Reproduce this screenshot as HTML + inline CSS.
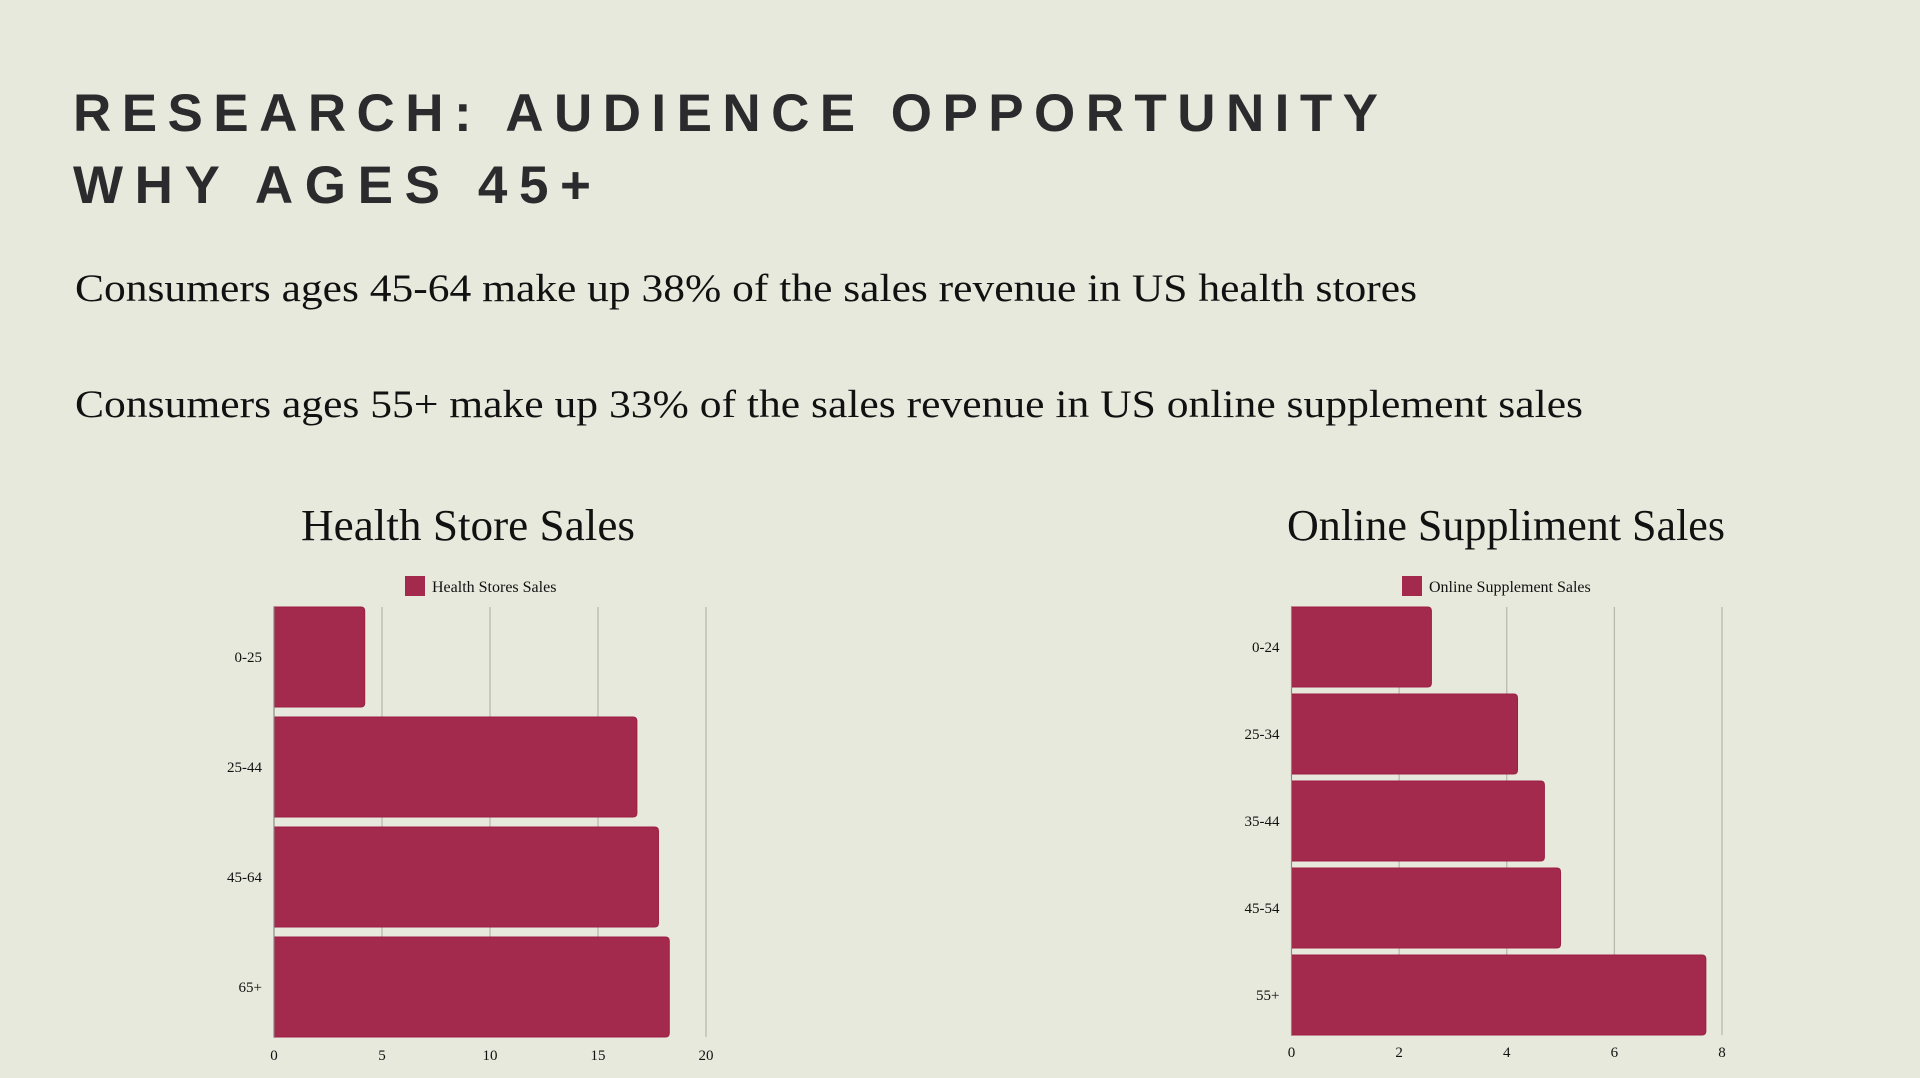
<!DOCTYPE html>
<html><head><meta charset="utf-8"><style>
html,body{margin:0;padding:0;background:#e8e9dd;}
svg{display:block;}
</style></head><body>
<svg id="s" width="1920" height="1078" viewBox="0 0 1920 1078" xmlns="http://www.w3.org/2000/svg">
<rect width="1920" height="1078" fill="#e8e9dd"/>
<g font-family="'Liberation Sans', sans-serif" font-weight="bold" font-size="53" fill="#2b2b2e">
<text x="73" y="131" textLength="1305" lengthAdjust="spacing">RESEARCH: AUDIENCE OPPORTUNITY</text>
<text x="73" y="203" textLength="518" lengthAdjust="spacing">WHY AGES 45+</text>
</g>
<g font-family="'Liberation Serif', serif" font-size="39" fill="#111">
<text x="75" y="301" textLength="1342" lengthAdjust="spacingAndGlyphs">Consumers ages 45-64 make up 38% of the sales revenue in US health stores</text>
<text x="75" y="417" textLength="1508" lengthAdjust="spacingAndGlyphs">Consumers ages 55+ make up 33% of the sales revenue in US online supplement sales</text>
</g>
<g id="c1"></g>
<g id="c2"></g>
</svg>
<script>
const hsCategories = ["0-25","25-44","45-64","65+"];
const hsValues = [4.2,16.8,17.8,18.3];
const hsTicks = [0,5,10,15,20];
const osCategories = ["0-24","25-34","35-44","45-54","55+"];
const osValues = [2.6,4.2,4.7,5.0,7.7];
const osTicks = [0,2,4,6,8];

const NS="http://www.w3.org/2000/svg";
function mk(parent,tag,attrs){const e=document.createElementNS(NS,tag);for(const k in attrs)e.setAttribute(k,attrs[k]);parent.appendChild(e);return e;}

function drawChart(g,cfg,cats,vals,ticks){
  const max=ticks[ticks.length-1];
  const x=v=>cfg.x0+(v/max)*(cfg.x1-cfg.x0);
  const band=(cfg.y1-cfg.y0+cfg.gap)/cats.length;
  const t=mk(g,'text',{x:cfg.tx,y:540,'text-anchor':'middle','font-family':"'Liberation Serif', serif",'font-size':44,fill:'#111',textLength:cfg.tw,lengthAdjust:'spacingAndGlyphs'});
  t.textContent=cfg.title;
  
  
  const ls=mk(g,'rect',{x:cfg.lx,y:576,width:20,height:20,fill:'#a32a4c'});
  
  
  const lt=mk(g,'text',{x:cfg.lx+27,y:592,'font-family':"'Liberation Serif', serif",'font-size':16,fill:'#111'});
  lt.textContent=cfg.legend;
  
  
  ticks.forEach(v=>{
    const gl=mk(g,'line',{x1:x(v),x2:x(v),y1:cfg.y0,y2:cfg.y1,stroke:'#b9b9b0','stroke-width':1.3});
    
    
    const tl=mk(g,'text',{x:x(v),y:cfg.y1+cfg.ly,'text-anchor':'middle','font-family':"'Liberation Serif', serif",'font-size':15,fill:'#111'});
    tl.textContent=v;
    
    
  });
  cats.forEach((c,i)=>{
    const top=cfg.y0+i*band, h=band-cfg.gap;
    const b=mk(g,'path',{d:`M${x(0)},${top} H${x(vals[i])-4} Q${x(vals[i])},${top} ${x(vals[i])},${top+4} V${top+h-4} Q${x(vals[i])},${top+h} ${x(vals[i])-4},${top+h} H${x(0)} Z`,fill:'#a32a4c',stroke:'#9c1f44','stroke-width':1});
    
    
    const yl=mk(g,'text',{x:x(0)-12,y:top+h/2+5,'text-anchor':'end','font-family':"'Liberation Serif', serif",'font-size':15,fill:'#111'});
    yl.textContent=c;
    
    
  });
  const ax=mk(g,'line',{x1:x(0),x2:x(0),y1:cfg.y0,y2:cfg.y1,stroke:'#888','stroke-width':1});
  
  
}
drawChart(document.getElementById('c1'),{x0:274,x1:706,y0:607,y1:1037,gap:10,ly:23,title:'Health Store Sales',tx:468,tw:334,lx:405,legend:'Health Stores Sales'},hsCategories,hsValues,hsTicks);
drawChart(document.getElementById('c2'),{x0:1291.5,x1:1722,y0:607,y1:1035,gap:7,ly:22,title:'Online Suppliment Sales',tx:1506,tw:438,lx:1402,legend:'Online Supplement Sales'},osCategories,osValues,osTicks);
</script>
</body></html>
